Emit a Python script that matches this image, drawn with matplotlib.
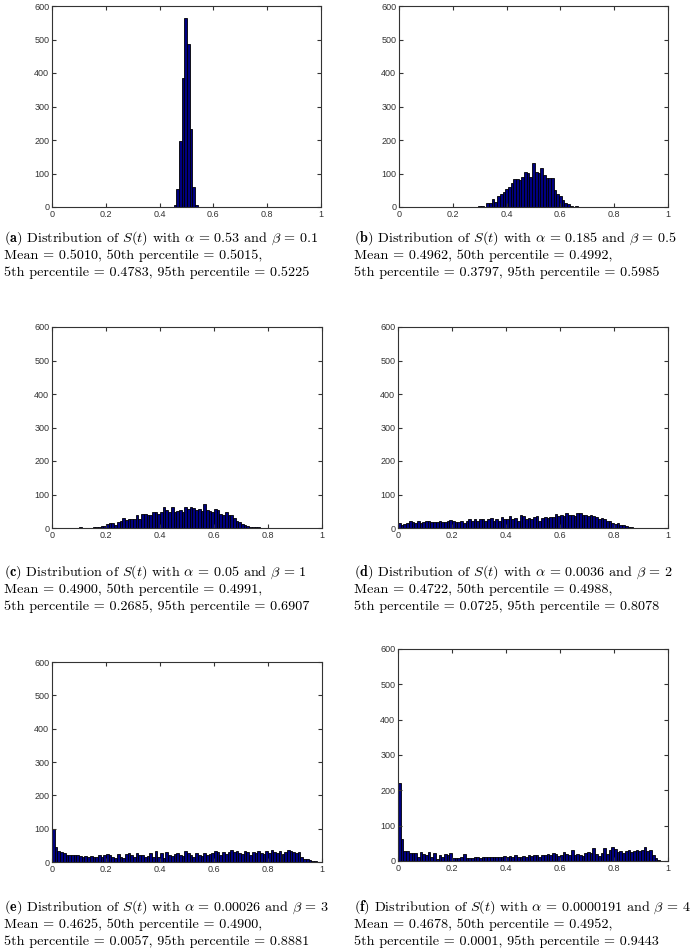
import numpy as np
import matplotlib
matplotlib.use("Agg")
import matplotlib.pyplot as plt

plt.rcParams['mathtext.fontset'] = 'cm'

# histogram counts, bins of width 0.01
a_first = 0.452
a_counts = [5, 55, 198, 386, 565, 488, 232, 60, 5]

b_first = 0.295
b_counts = [2, 2, 0, 12, 12, 25, 15, 32, 38, 45, 55, 60, 72, 83, 85, 80, 90,
            103, 102, 90, 131, 105, 102, 115, 95, 88, 88, 88, 52, 38, 32, 22,
            13, 8, 3, 0, 2]

c_first = 0.10
c_counts = [3, 0, 0, 0, 0, 2, 3, 3, 5, 7, 12, 14, 14, 8, 18, 20, 29, 25, 27,
            28, 27, 40, 28, 42, 43, 40, 38, 49, 49, 42, 47, 63, 55, 47, 63, 49,
            51, 55, 48, 62, 58, 62, 60, 53, 57, 52, 73, 55, 51, 48, 57, 53, 43,
            39, 48, 38, 40, 30, 22, 17, 12, 10, 5, 3, 3, 2, 2, 1, 1, 1, 1, 1]

d_first = 0.0
d_counts = [14, 10, 13, 15, 20, 17, 15, 20, 16, 18, 20, 22, 18, 17, 19, 20, 18,
            17, 20, 25, 22, 18, 18, 20, 16, 22, 28, 20, 28, 22, 26, 28, 22, 26,
            30, 20, 27, 22, 32, 26, 28, 35, 28, 30, 22, 38, 36, 28, 30, 27, 33,
            36, 20, 30, 34, 30, 32, 33, 43, 36, 40, 35, 44, 38, 38, 36, 46, 44,
            40, 40, 36, 38, 35, 33, 28, 30, 28, 22, 20, 16, 12, 14, 10, 8, 6, 3,
            2, 1, 1]

e_first = 0.0
e_counts = [100, 45, 33, 30, 28, 20, 22, 22, 20, 20, 18, 16, 17, 15, 18, 14, 16,
            20, 15, 22, 25, 20, 15, 12, 25, 16, 12, 25, 28, 22, 16, 28, 20, 22,
            15, 18, 28, 15, 32, 14, 28, 12, 30, 22, 18, 25, 28, 22, 18, 32, 28,
            22, 15, 28, 22, 18, 28, 22, 25, 28, 32, 30, 22, 30, 25, 30, 35, 30,
            32, 28, 25, 32, 30, 22, 30, 28, 32, 28, 25, 32, 28, 35, 30, 28, 32,
            25, 30, 35, 32, 30, 28, 30, 15, 10, 8, 5, 3, 2, 1, 0]

f_first = 0.0
f_counts = [221, 61, 28, 28, 24, 24, 24, 11, 26, 21, 16, 26, 11, 22, 6, 18, 12,
            20, 16, 24, 8, 8, 8, 12, 20, 8, 8, 8, 10, 12, 8, 12, 10, 12, 12, 10,
            12, 10, 12, 14, 10, 14, 12, 16, 10, 12, 14, 12, 16, 14, 18, 16, 12,
            16, 18, 20, 16, 22, 20, 14, 18, 26, 20, 16, 30, 16, 20, 18, 14, 22,
            26, 24, 38, 20, 14, 24, 36, 20, 30, 40, 34, 26, 28, 24, 28, 30, 26,
            28, 30, 28, 32, 40, 28, 32, 18, 8, 3, 0, 0, 0]

captions = [
    [r"$\mathbf{(a)}$ Distribution of $S(t)$ with $\alpha$ = 0.53 and $\beta$ = 0.1",
     "Mean = 0.5010, 50th percentile = 0.5015,",
     "5th percentile = 0.4783, 95th percentile = 0.5225"],
    [r"$\mathbf{(b)}$ Distribution of $S(t)$ with $\alpha$ = 0.185 and $\beta$ = 0.5",
     "Mean = 0.4962, 50th percentile = 0.4992,",
     "5th percentile = 0.3797, 95th percentile = 0.5985"],
    [r"$\mathbf{(c)}$ Distribution of $S(t)$ with $\alpha$ = 0.05 and $\beta$ = 1",
     "Mean = 0.4900, 50th percentile = 0.4991,",
     "5th percentile = 0.2685, 95th percentile = 0.6907"],
    [r"$\mathbf{(d)}$ Distribution of $S(t)$ with $\alpha$ = 0.0036 and $\beta$ = 2",
     "Mean = 0.4722, 50th percentile = 0.4988,",
     "5th percentile = 0.0725, 95th percentile = 0.8078"],
    [r"$\mathbf{(e)}$ Distribution of $S(t)$ with $\alpha$ = 0.00026 and $\beta$ = 3",
     "Mean = 0.4625, 50th percentile = 0.4900,",
     "5th percentile = 0.0057, 95th percentile = 0.8881"],
    [r"$\mathbf{(f)}$ Distribution of $S(t)$ with $\alpha$ = 0.0000191 and $\beta$ = 4",
     "Mean = 0.4678, 50th percentile = 0.4952,",
     "5th percentile = 0.0001, 95th percentile = 0.9443"],
]

panels = [(a_first, a_counts), (b_first, b_counts), (c_first, c_counts),
          (d_first, d_counts), (e_first, e_counts), (f_first, f_counts)]

W, H = 700, 948
# axes boxes in pixels: left, top, right, bottom
boxes = [(52, 6, 321, 207), (399, 6, 668, 207),
         (52, 327, 322, 528), (398, 327, 668, 528),
         (52, 662, 322, 862), (398, 649, 668, 861)]
cap_y = [238, 238, 572, 572, 907, 907]
cap_x = [4, 354, 4, 354, 4, 354]

fig = plt.figure(figsize=(W / 100, H / 100), dpi=100)

for i, (first, counts) in enumerate(panels):
    l, t, r, b = boxes[i]
    ax = fig.add_axes([l / W, 1 - b / H, (r - l) / W, (b - t) / H])
    counts = np.array(counts)
    edges = first + 0.01 * np.arange(len(counts))
    ax.bar(edges, counts, width=0.01, align='edge', color='#000080',
           edgecolor='black', linewidth=0.6)
    ax.set_xlim(0, 1)
    ax.set_ylim(0, 600)
    ax.set_xticks([0, 0.2, 0.4, 0.6, 0.8, 1])
    ax.set_xticklabels(['0', '0.2', '0.4', '0.6', '0.8', '1'])
    ax.set_yticks([0, 100, 200, 300, 400, 500, 600])
    ax.tick_params(direction='in', top=True, right=True, length=3, width=0.8,
                   labelsize=6.5, pad=2, colors='#333333')
    for lab in ax.get_xticklabels() + ax.get_yticklabels():
        lab.set_family('Liberation Sans')
    for sp in ax.spines.values():
        sp.set_color('#333333')
        sp.set_linewidth(0.8)

    for j, line in enumerate(captions[i]):
        fig.text(cap_x[i] / W, 1 - (cap_y[i] + 17.5 * j) / H, line,
                 family='cmr10', fontsize=10.2, va='center', ha='left')

fig.savefig('out.png', dpi=100)
